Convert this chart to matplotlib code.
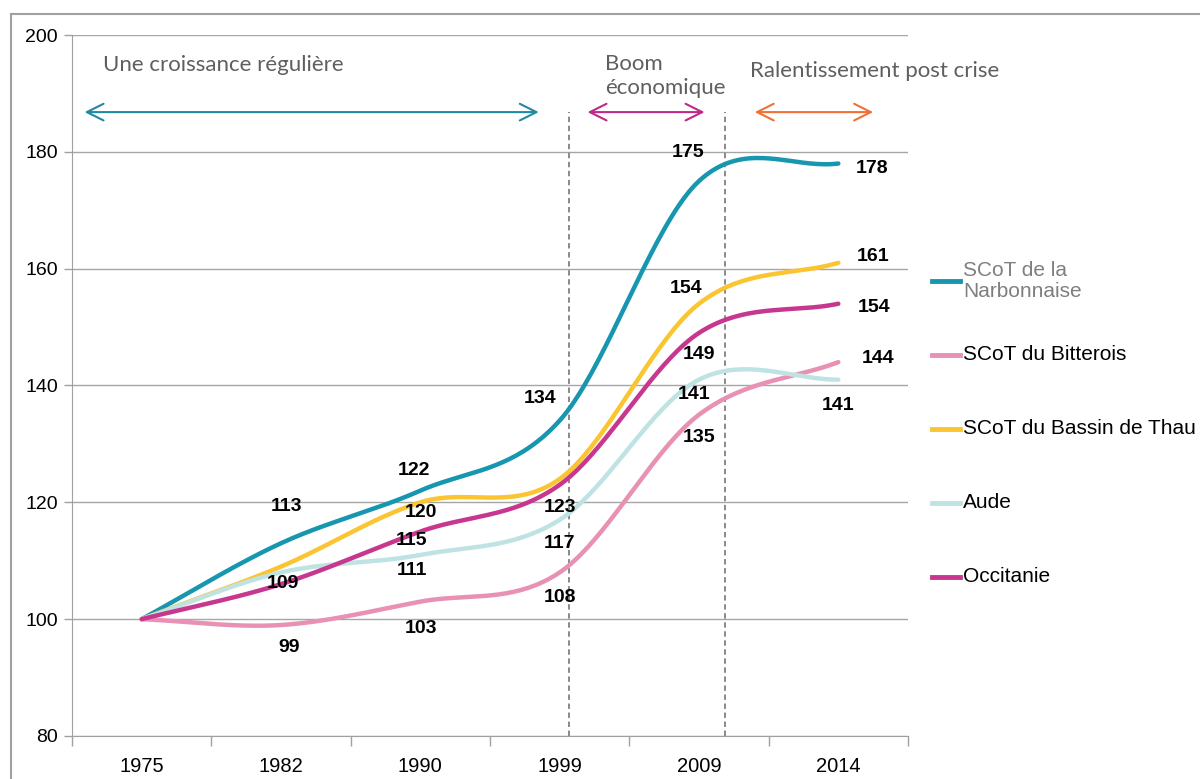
import numpy as np
import matplotlib
matplotlib.use("Agg")
import matplotlib.pyplot as plt
from matplotlib.lines import Line2D
from matplotlib.patches import Rectangle

years = ['1975', '1982', '1990', '1999', '2009', '2014']
series = ['SCoT de la\nNarbonnaise', 'SCoT du Bitterois', 'SCoT du Bassin de Thau', 'Aude', 'Occitanie']

narbonnaise = [100, 113, 122, 134, 175, 178]
bitterois = [100, 99, 103, 108, 135, 144]
thau = [100, 109, 120, 124, 154, 161]
aude = [100, 108, 111, 117, 141, 141]
occitanie = [100, 106, 115, 123, 149, 154]

colors = ['#1796B0', '#E891B4', '#FBC531', '#BFE3E3', '#C8378F']

# label offsets (pixels) from each point, None = no label shown
offsets = [
    [None, (6, 37), (-6, 20), (-20, 22), (-11, 29), (34, -5)],
    [None, (8, -22), (1, -27), (0, -25), (0, -23), (40, 4)],
    [None, (2, -17), (1, -10), None, (-13, 15), (35, 6)],
    [None, None, (-8, -16), (0, -24), (-5, -15), (0, -26)],
    [None, None, (-9, -9), (0, -23), (0, -22), (36, -4)],
]


def smooth(y, n=40):
    # Catmull-Rom style smoothing like the Excel smoothed line
    y = np.asarray(y, float)
    xs, ys = [], []
    for i in range(len(y) - 1):
        p0 = y[i - 1] if i > 0 else y[i]
        p3 = y[i + 2] if i + 2 < len(y) else y[i + 1]
        m1 = (y[i + 1] - p0) / (2 if i > 0 else 1)
        m2 = (p3 - y[i]) / (2 if i + 2 < len(y) else 1)
        c1 = y[i] + m1 / 3
        c2 = y[i + 1] - m2 / 3
        t = np.linspace(0, 1, n)
        b = (1 - t) ** 3 * y[i] + 3 * (1 - t) ** 2 * t * c1 + 3 * (1 - t) * t ** 2 * c2 + t ** 3 * y[i + 1]
        xs.append(i + t)
        ys.append(b)
    return np.concatenate(xs), np.concatenate(ys)


fig = plt.figure(figsize=(12, 7.79), dpi=100)
ax = fig.add_axes([72 / 1200, 43 / 779, 836 / 1200, 701 / 779])

data = [narbonnaise, bitterois, thau, aude, occitanie]
x = np.arange(len(years))
for vals, c, offs in zip(data, colors, offsets):
    sx, sy = smooth(vals)
    ax.plot(sx, sy, color=c, lw=3.2, solid_capstyle='round', zorder=3)
    for xi, v, o in zip(x, vals, offs):
        if o is None:
            continue
        ax.annotate(str(v), (xi, v), xytext=o, textcoords='offset pixels',
                    ha='center', va='center', fontsize=14, fontweight='bold',
                    family='Liberation Sans', color='black', zorder=4)

ax.set_xlim(-0.5, 5.5)
ax.set_ylim(80, 200)
ax.set_yticks(range(80, 201, 20))
ax.set_xticks(x)
ax.set_xticklabels(years, fontsize=14.5, family='Liberation Sans')
ax.set_xticks(np.arange(-0.5, 6, 1), minor=True)
ax.tick_params(axis='x', which='major', length=0, pad=15)
ax.tick_params(axis='x', which='minor', length=7, color='#a0a0a0', width=1)
ax.tick_params(axis='y', length=6, color='#a0a0a0', width=1, pad=4)
for lab in ax.get_yticklabels():
    lab.set_fontsize(14)
    lab.set_family('Liberation Sans')
ax.grid(axis='y', color='#a6a6a6', lw=1)
ax.set_axisbelow(True)
for s in ['top', 'right']:
    ax.spines[s].set_visible(False)
for s in ['left', 'bottom']:
    ax.spines[s].set_color('#a0a0a0')

# period separators and arrows
y_arrow = 186.8
for xv in [3.07, 4.19]:
    ax.plot([xv, xv], [80, y_arrow], color='#808080', lw=1.3, ls=(0, (3, 2)), zorder=2)

arrows = [(-0.41, 2.85, '#1F8AA2'), (3.2, 4.04, '#C0288A'), (4.4, 5.25, '#F07038')]
for x0, x1, c in arrows:
    ax.annotate('', xy=(x1, y_arrow), xytext=(x0, y_arrow),
                arrowprops=dict(arrowstyle='<->,head_length=1.2,head_width=0.6', color=c, lw=1.5,
                                shrinkA=0, shrinkB=0))

txt = dict(color='#5f5f5f', fontsize=16, family='Lato', va='center', ha='left')
ax.text(-0.278, 194.8, 'Une croissance régulière', **txt)
ax.text(3.325, 192.9, 'Boom\néconomique', linespacing=1.25, **txt)
ax.text(4.366, 193.8, 'Ralentissement post crise', **txt)

# legend drawn by hand to keep Excel spacing
for i, (name, c) in enumerate(zip(series, colors)):
    yy = 1 - (281 + 74 * i) / 779
    fig.add_artist(Line2D([932 / 1200, 960 / 1200], [yy, yy], color=c, lw=3.5,
                          transform=fig.transFigure))
    fig.text(963 / 1200, yy, name, fontsize=15, family='Liberation Sans', va='center', ha='left',
             color='#7f7f7f' if i == 0 else 'black', linespacing=1.15)

# outer frame
fig.add_artist(Rectangle((11 / 1200, -0.05), 1.1, 1 - 14 / 779 + 0.05, fill=False,
                         ec='#a0a0a0', lw=1.5, transform=fig.transFigure))

fig.savefig('out.png', dpi=100)
